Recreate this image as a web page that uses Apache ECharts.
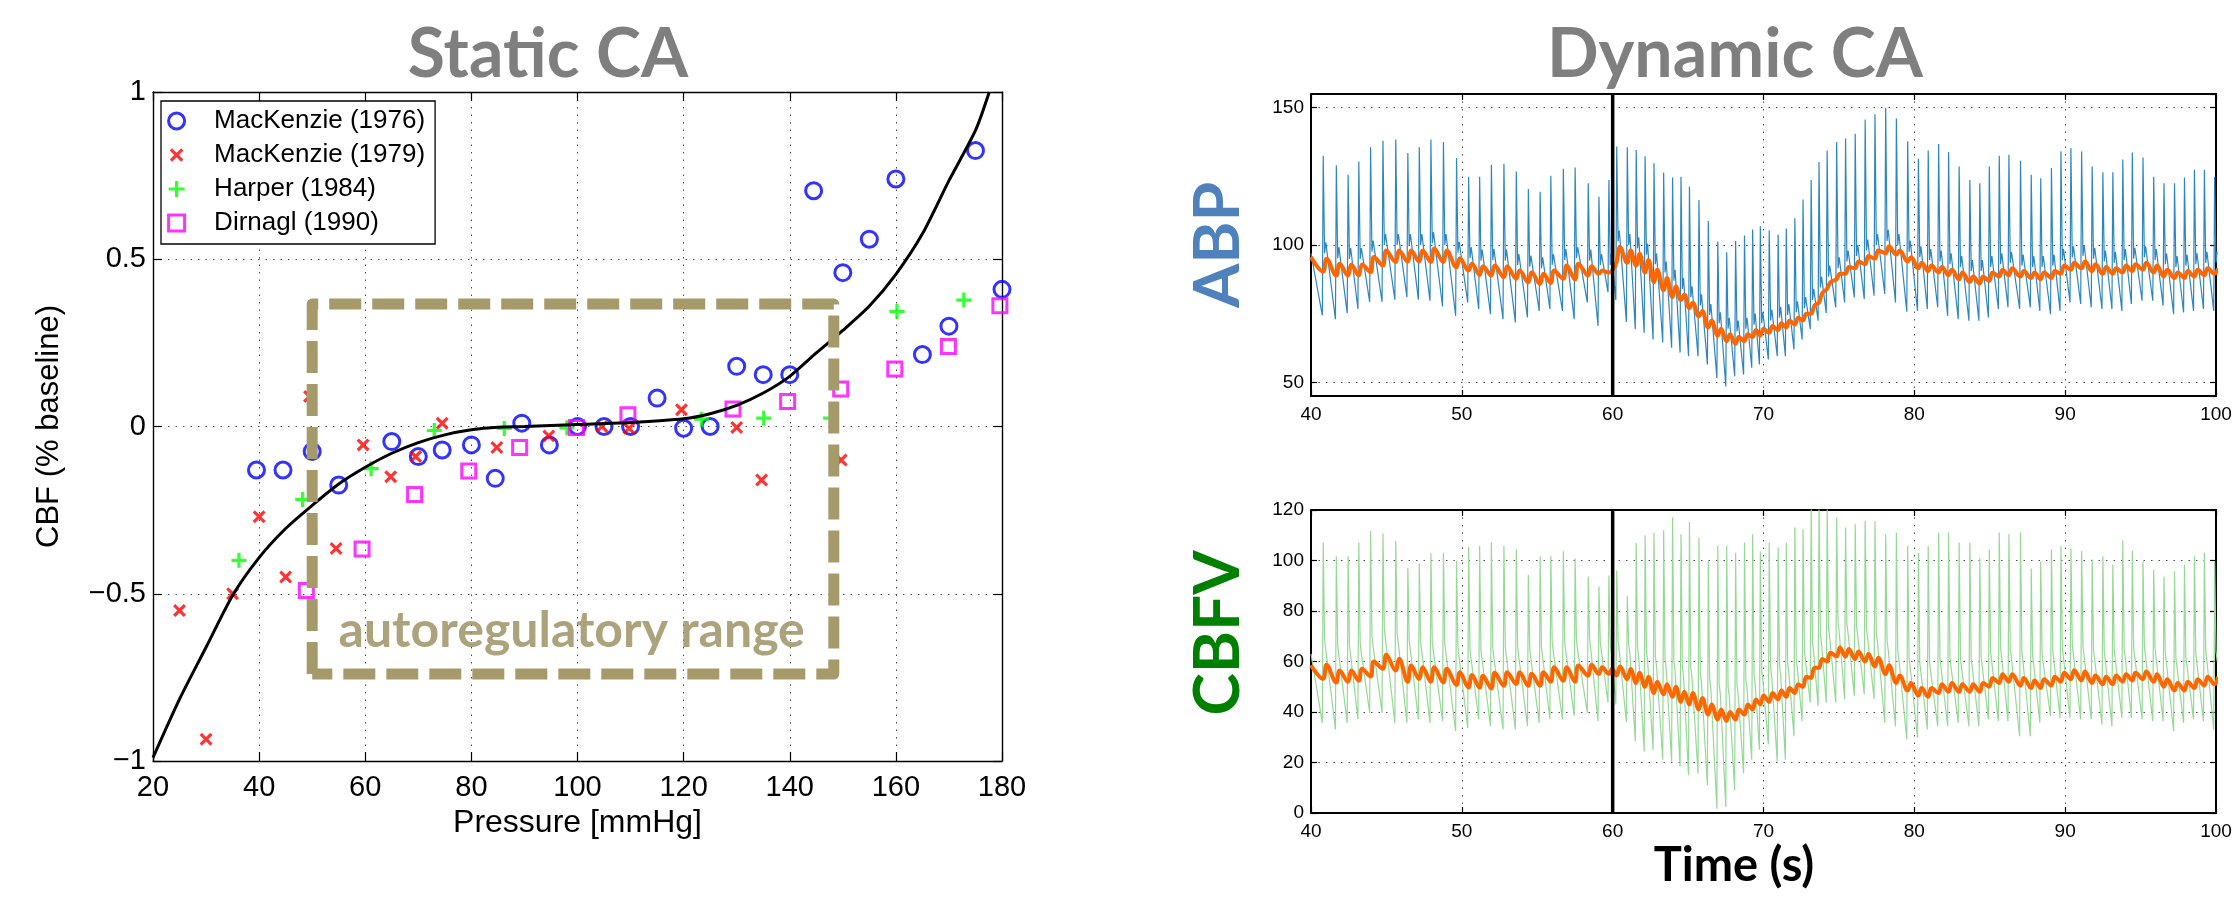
<!DOCTYPE html>
<html><head><meta charset="utf-8">
<script src="https://cdn.jsdelivr.net/npm/echarts@6/dist/echarts.min.js"></script>
<style>html,body{margin:0;padding:0;background:#fff}#c{width:2237px;height:898px}</style>
</head><body><div id="c"></div><script>
// ---------- Static CA (left panel) ----------
const mk76X = [39.5, 44.5, 50, 55, 65, 70, 74.5, 80, 84.5, 89.5, 94.7, 100, 105, 110, 115, 120, 125, 130, 135, 140, 144.5, 150, 155, 160, 165, 170, 175, 180];
const mk76Y = [-0.13, -0.13, -0.075, -0.175, -0.045, -0.09, -0.07, -0.055, -0.155, 0.01, -0.055, 0, 0, 0, 0.085, -0.005, 0, 0.18, 0.155, 0.155, 0.705, 0.46, 0.56, 0.74, 0.215, 0.30, 0.825, 0.41];
const mk79X = [25, 30, 35, 40, 45, 49.5, 54.5, 59.6, 64.8, 69.5, 74.5, 84.8, 94.6, 104.6, 109.7, 119.6, 130, 134.7, 149.7];
const mk79Y = [-0.55, -0.935, -0.50, -0.27, -0.45, 0.09, -0.365, -0.055, -0.15, -0.09, 0.01, -0.063, -0.028, 0, -0.005, 0.05, -0.003, -0.16, -0.10];
const harperX = [36.2, 48.2, 61.1, 73, 86.2, 98, 123.4, 135.1, 147.7, 160.2, 172.8];
const harperY = [-0.40, -0.218, -0.126, -0.012, -0.006, -0.004, 0.022, 0.025, 0.025, 0.344, 0.378];
const dirnaglX = [48.9, 59.4, 69.3, 79.5, 89.1, 99.8, 109.5, 129.3, 139.6, 149.6, 159.8, 169.9, 179.6];
const dirnaglY = [-0.49, -0.366, -0.203, -0.133, -0.063, -0.003, 0.035, 0.052, 0.075, 0.112, 0.172, 0.239, 0.361];
const fitX = [20, 25, 30, 35, 40, 45, 50, 55, 60, 65, 70, 75, 80, 85, 90, 100, 110, 120, 125, 130, 135, 140, 145, 150, 155, 160, 165, 170, 175, 177.6];
const fitY = [-0.99, -0.815, -0.66, -0.505, -0.392, -0.305, -0.236, -0.172, -0.122, -0.080, -0.048, -0.025, -0.010, -0.002, 0.0, 0.006, 0.012, 0.023, 0.038, 0.063, 0.10, 0.15, 0.22, 0.287, 0.36, 0.455, 0.576, 0.735, 0.885, 1.0];
const rangeX = [50, 148.3];      // autoregulatory range box (pressure)
const rangeY = [-0.74, 0.366];   // box (CBF)
const rangeLabel = 'autoregulatory range';
const rangeLabelPos = [98.9, -0.612];

// ---------- Dynamic CA (right panels) ----------
const beatTimes = [40.78, 41.65, 42.43, 43.14, 43.92, 44.74, 45.59, 46.39, 47.15, 47.92,
 48.75, 49.62, 50.42, 51.15, 51.93, 52.76, 53.58, 54.38, 55.16, 55.87,
 56.70, 57.48, 58.35, 59.06, 59.72,
 60.24, 60.94, 61.53, 62.12, 62.71, 63.35, 63.94,
 64.50, 65.06, 65.69, 66.31, 66.94, 67.53, 68.12, 68.71, 69.25, 69.76,
 70.35, 70.94, 71.48, 72.05, 72.59, 73.13, 73.65, 74.19, 74.82, 75.41,
 76.05, 76.71, 77.36, 78.07, 78.78, 79.53, 80.24, 80.89, 81.58, 82.24,
 82.94, 83.65, 84.31, 84.94, 85.60, 86.24, 87.01, 87.72, 88.35, 89.06,
 89.69, 90.35, 91.06, 91.76, 92.47, 93.13, 93.79, 94.42, 95.13, 95.84,
 96.52, 97.22, 97.88, 98.54, 99.20, 99.88];
const abpSys = [132.5, 129.0, 125.6, 130.4, 135.6, 138.0, 138.4, 133.5, 135.6, 138.4, 137.5, 131.7, 124.9, 124.9, 129.2, 129.6, 126.8, 120.4, 119.4, 125.2, 127.8, 128.2, 122.5, 117.6, 123.7,
 135.9, 135.6, 134.6, 132.3, 129.8, 126.4, 124.6,
 124.9, 121.3, 116.4, 108.7, 101.3, 97.4, 101.5, 103.5, 105.6, 106.8, 105.4, 103.8, 106.0, 109.7, 116.6, 123.7, 130.2, 134.4, 137.5, 138.8, 140.5, 145.7, 147.6, 150.0, 146.1, 137.8, 131.4, 134.4, 136.8, 133.9, 128.6, 123.7, 122.5, 128.6, 132.5, 132.9, 130.7, 125.6, 124.3, 128.0, 134.1, 135.3, 134.1, 128.6, 126.5, 126.5, 131.1, 133.7, 131.9, 124.9, 122.5, 122.5, 124.6, 127.4, 127.4, 124.9];
const abpDia = [74.4, 73.0, 75.2, 76.7, 79.3, 79.3, 80.1, 81.0, 80.1, 79.7, 77.6, 74.2, 79.1, 76.7, 74.8, 73.0, 71.8, 73.6, 76.0, 76.7, 76.0, 73.0, 79.1, 70.5, 82.8,
 80.0, 72.0, 69.3, 68.0, 65.6, 64.5, 62.6,
 60.8, 59.5, 59.5, 56.5, 51.6, 48.5, 52.2, 52.8, 55.3, 56.5, 58.3, 59.5, 59.5, 62.0, 65.6, 69.3, 72.4, 75.2, 77.3, 79.1, 80.9, 80.3, 81.5, 82.2, 79.1, 75.7, 76.0, 76.7, 77.3, 74.2, 73.0, 72.4, 72.4, 73.6, 76.7, 77.3, 76.7, 77.3, 76.0, 74.8, 76.0, 79.1, 78.5, 77.3, 76.7, 76.7, 76.0, 78.5, 79.7, 79.7, 77.9, 74.8, 75.4, 76.0, 76.7, 76.0];
const abpMeanLo = [90.3, 88.9, 88.9, 88.9, 90.1, 92.5, 93.8, 94.0, 94.0, 93.8, 93.8, 91.9, 90.7, 89.1, 88.9, 88.3, 87.7, 86.4, 85.8, 86.2, 87.7, 87.4, 88.9, 89.5, 89.9,
 93.8, 93.5, 92.5, 90.0, 86.5, 83.5, 81.0,
 80, 77, 74, 70, 67, 65, 64, 65, 66.5, 67, 68, 69, 70, 71, 72.5, 75, 79, 84, 87.5, 89.5, 91.5, 93, 95, 97, 96.5, 94, 91.5, 90.5, 90, 89, 87.5, 86.5, 86, 87, 88.5, 89, 88.5, 88, 87.5, 88, 89.5, 91, 91.5, 90.5, 89.5, 89.5, 90, 90.5, 91, 90, 88.5, 88, 88, 88.5, 89, 89.5];
const abpMeanHi = [95.0, 93.2, 92.9, 92.9, 95.6, 98.0, 98.0, 98.0, 98.0, 98.7, 98.0, 95.2, 93.2, 92.3, 92.5, 92.3, 90.7, 90.1, 89.5, 90.7, 92.5, 93.2, 92.3, 90.7, 90.7,
 99.3, 98.0, 96.8, 94.5, 91.0, 88.0, 85.0,
 82, 79, 76, 72.5, 69.5, 67.5, 66.5, 67.5, 69, 69.5, 70.5, 71.5, 72.5, 73.5, 75, 78, 82.5, 86.5, 89.5, 92, 94, 96, 98, 99.5, 98, 95.5, 93.5, 92.5, 92, 91, 90, 88.5, 88.5, 90, 91, 91.5, 90.5, 90, 90, 90.5, 92.5, 93.5, 94, 93, 92, 91.5, 92.5, 93, 93.5, 92.5, 91, 90, 90.5, 91, 91.5, 91.5];
const cbfvSys = [107.1, 101.7, 101.7, 107.1, 111.7, 110.7, 107.7, 97.1, 98.7, 103.1, 103.1, 99.7, 105.3, 105.7, 107.1, 105.7, 104.4, 94.4, 101.7, 101.7, 103.7, 100.8, 93.7, 89.7, 94.1,
 96, 86, 107, 110, 111, 112, 117,
 110.4, 115.1, 109.1, 99.7, 105.7, 105.7, 103.1, 107.1, 110.4, 103.7, 107.1, 105.1, 107.1, 113.1, 112.4, 121, 121, 121, 117.1, 113.1, 114.4, 115.7, 115.5, 110.4, 111.1, 105.7, 103.1, 105.7, 111.1, 111.1, 107.1, 107.1, 101.1, 104.4, 111.1, 110.4, 111.1, 96.8, 99.7, 104.4, 105.7, 104.8, 103.7, 100.4, 101.7, 98.4, 108.0, 104.0, 99.7, 96.4, 93.7, 95.7, 98.4, 101.7, 103.1, 99.7];
const cbfvDia = [35.7, 33.1, 35.7, 37.1, 39.7, 39.7, 35.7, 35.7, 37.1, 35.7, 36.4, 32.4, 33.7, 37.1, 34.4, 33.1, 33.1, 34.4, 35.7, 37.1, 37.1, 38.4, 39.7, 36.4, 43.7,
 43, 36, 28.4, 24.4, 25, 21.1, 20.4,
 18.4, 15, 15.7, 11, 1.7, 2.4, 9.1, 15.7, 21.1, 25.1, 27.1, 20.4, 21.1, 30.4, 36.4, 43.7, 42.4, 43.7, 43.7, 45.1, 46.4, 47.1, 45.1, 35.7, 34.4, 29.1, 29.7, 33.1, 34.4, 34.4, 35.7, 34.4, 34.4, 37.1, 36.4, 36.4, 30.4, 30.4, 35.7, 38.4, 37.7, 37.7, 37.1, 37.1, 35.1, 34.4, 37.7, 37.7, 37.1, 36.4, 36.4, 32.4, 35.7, 37.1, 36.4, 33.1];
const cbfvMeanLo = [53.1, 51.7, 52.0, 52.4, 54.1, 57.1, 56.4, 52.0, 53.1, 52.0, 51.7, 50.7, 49.7, 49.7, 49.3, 50.4, 51.1, 50.4, 50.4, 52.0, 52.4, 52.0, 54.4, 55.1, 55.1,
 54.5, 53, 51.5, 50, 47.5, 47, 46,
 44, 43, 41, 39, 37, 36.5, 37, 39, 41, 43, 44, 45, 46, 47.5, 50, 53.5, 57.5, 60, 62, 62, 61, 60, 58, 55, 51.5, 48.5, 46.5, 46, 47.5, 48, 48, 48, 48, 50, 51.5, 52, 50.5, 49.5, 49.5, 50.5, 52, 53, 52.5, 51.5, 51, 51, 52, 52.5, 53, 52, 50, 48.5, 48.5, 49.5, 50.5, 51];
const cbfvMeanHi = [58.7, 56.4, 56.4, 57.1, 60.0, 62.7, 61.1, 58.4, 57.7, 57.7, 57.1, 55.7, 54.7, 54.4, 55.5, 55.7, 55.7, 55.1, 55.7, 57.7, 57.7, 58.4, 58.7, 57.7, 57.1,
 58, 57, 55.5, 54, 52, 51, 50,
 48, 47.5, 45.5, 43, 41, 40, 41, 43, 45, 46.5, 47.5, 48.5, 49.5, 51, 54, 57.5, 61, 63.5, 65.5, 65, 64, 63, 61.5, 58.5, 54.5, 51.5, 49.5, 49.5, 51, 51.5, 51, 51, 51.5, 53.5, 55, 55, 53.5, 52.5, 53, 54, 55.5, 56.5, 56, 54.5, 54, 54.5, 55, 55.5, 56, 55, 53, 51.5, 52, 53, 54, 54];
const abpStart = 97, abpMeanStart = 95.6, cbfvStart = 63, cbfvMeanStart = 58.5;
const eventTime = 60;
const tRange = [40, 100], abpRange = [45, 155], cbfvRange = [0, 120];

// ---------- builders ----------
function wave(sys, dia, hi, start, notchUp, bumpUp) {
  const pts = [[tRange[0], start]];
  beatTimes.forEach((t, i) => {
    pts.push([t - 0.03, dia[i]]);
    pts.push([t + 0.03, sys[i]]);
    pts.push([t + 0.12, hi[i] + notchUp]);
    pts.push([t + 0.20, hi[i] + bumpUp]);
  });
  return pts;
}
function meanLine(lo, hi, start) {
  const pts = [[tRange[0], start]];
  beatTimes.forEach((t, i) => { pts.push([t + 0.02, lo[i]]); pts.push([t + 0.25, hi[i]]); });
  return pts;
}
const zip = (xs, ys) => xs.map((x, i) => [x, ys[i]]);
const FONT = 'Liberation Sans, Arial, sans-serif';
const gridCol = '#4a4a4a';
const dotted = {show: true, lineStyle: {color: gridCol, width: 1, type: [1.5, 6]}};

function xAx(gi, min, max, step, pos, show, extra) {
  return Object.assign({
    gridIndex: gi, type: 'value', min, max, interval: step, position: pos,
    axisLine: {show: true, onZero: false, lineStyle: {color: '#000', width: gi === 0 ? 1.4 : 2}},
    axisTick: {show: true, inside: true, length: gi === 0 ? 9 : 6, lineStyle: {color: '#000', width: 1.2}},
    axisLabel: {show: show, color: '#000', fontFamily: FONT, fontSize: gi === 0 ? 29 : 19, margin: gi === 0 ? 12 : 9},
    splitLine: show ? dotted : {show: false}
  }, extra || {});
}
function yAx(gi, min, max, step, pos, show, extra) {
  return Object.assign({
    gridIndex: gi, type: 'value', min, max, interval: step, position: pos,
    axisLine: {show: true, onZero: false, lineStyle: {color: '#000', width: gi === 0 ? 1.4 : 2}},
    axisTick: {show: true, inside: true, length: gi === 0 ? 9 : 6, lineStyle: {color: '#000', width: 1.2}},
    axisLabel: {show: show, color: '#000', fontFamily: FONT, fontSize: gi === 0 ? 29 : 19, margin: 7},
    splitLine: show ? dotted : {show: false}
  }, extra || {});
}
const minus = v => (v < 0 ? '\u2212' + Math.abs(v) : String(v));

function scat(name, xs, ys, symbol, size, color, bw) {
  return {type: 'scatter', name, xAxisIndex: 0, yAxisIndex: 0, data: zip(xs, ys), symbol, symbolSize: size,
    itemStyle: {color: 'rgba(0,0,0,0)', borderColor: color, borderWidth: bw}, z: 3, silent: true};
}
const SYM_X = 'path://M-2,-2L-2,-2M0,0L10,10M10,0L0,10M12,12L12,12';
const SYM_P = 'path://M5,0L5,10M0,5L10,5';
const SYM_S = 'path://M0,0L10,0L10,10L0,10Z';
const legendNames = ['MacKenzie (1976)', 'MacKenzie (1979)', 'Harper (1984)', 'Dirnagl (1990)'];

const boxPts = [[rangeX[0], rangeY[0]], [rangeX[0], rangeY[1]], [rangeX[1], rangeY[1]], [rangeX[1], rangeY[0]], [rangeX[0], rangeY[0]]];

const option = {
  animation: false,
  backgroundColor: '#fff',
  textStyle: {fontFamily: FONT},
  grid: [
    {left: 153, top: 92, width: 849, height: 669, containLabel: false, outerBoundsMode: 'none'},
    {left: 1311, top: 94, width: 905, height: 302, containLabel: false, outerBoundsMode: 'none'},
    {left: 1311, top: 510, width: 905, height: 303, containLabel: false, outerBoundsMode: 'none'}
  ],
  xAxis: [
    xAx(0, 20, 180, 20, 'bottom', true, {name: 'Pressure [mmHg]', nameLocation: 'middle', nameGap: 43,
      nameTextStyle: {fontSize: 32, color: '#000', fontFamily: FONT, verticalAlign: 'top'}}),
    xAx(0, 20, 180, 20, 'top', false),
    xAx(1, tRange[0], tRange[1], 10, 'bottom', true),
    xAx(1, tRange[0], tRange[1], 10, 'top', false),
    xAx(2, tRange[0], tRange[1], 10, 'bottom', true),
    xAx(2, tRange[0], tRange[1], 10, 'top', false)
  ],
  yAxis: [
    yAx(0, -1, 1, 0.5, 'left', true, {name: 'CBF (% baseline)', nameLocation: 'middle', nameGap: 88, nameRotate: 90,
      nameTextStyle: {fontSize: 31, color: '#000', fontFamily: FONT}, axisLabel: {show: true, color: '#000', fontFamily: FONT, fontSize: 29, margin: 7, formatter: minus}}),
    yAx(0, -1, 1, 0.5, 'right', false),
    yAx(1, abpRange[0], abpRange[1], null, 'left', true, {minInterval: 50, maxInterval: 50,
      axisLabel: {show: true, color: '#000', fontFamily: FONT, fontSize: 19, margin: 7, showMinLabel: false, showMaxLabel: false}}),
    yAx(1, abpRange[0], abpRange[1], null, 'right', false, {minInterval: 50, maxInterval: 50}),
    yAx(2, cbfvRange[0], cbfvRange[1], 20, 'left', true),
    yAx(2, cbfvRange[0], cbfvRange[1], 20, 'right', false)
  ],
  legend: {
    data: [
      {name: legendNames[0], icon: 'circle', itemStyle: {color: 'rgba(0,0,0,0)', borderColor: '#0000ff', borderWidth: 3}},
      {name: legendNames[1], icon: SYM_X, itemStyle: {color: 'rgba(0,0,0,0)', borderColor: '#ff0000', borderWidth: 3.2}},
      {name: legendNames[2], icon: SYM_P, itemStyle: {color: 'rgba(0,0,0,0)', borderColor: '#00ff00', borderWidth: 3.2}},
      {name: legendNames[3], icon: SYM_S, itemStyle: {color: 'rgba(0,0,0,0)', borderColor: '#ff00ff', borderWidth: 3}}
    ],
    orient: 'vertical', left: 161, top: 101, padding: [7, 10, 8, 6], itemWidth: 65, itemHeight: 16, itemGap: 8,
    symbolKeepAspect: true,
    backgroundColor: '#fff', borderColor: '#000', borderWidth: 1.3, selectedMode: false,
    textStyle: {fontSize: 26, color: '#000', fontFamily: FONT}
  },
  graphic: [
    {type: 'text', x: 548, y: 55, style: {text: 'Static CA', fill: '#7f7f7f', font: 'bold 68px Lato', align: 'center', verticalAlign: 'middle'}},
    {type: 'text', x: 1735, y: 55, style: {text: 'Dynamic CA', fill: '#7f7f7f', font: 'bold 68px Lato', align: 'center', verticalAlign: 'middle'}},
    {type: 'text', x: 1734, y: 866, style: {text: 'Time (s)', fill: '#000', font: 'bold 47px Lato', align: 'center', verticalAlign: 'middle'}},
    {type: 'text', x: 1218, y: 245, rotation: Math.PI / 2, style: {text: 'ABP', fill: '#4f81bd', font: 'bold 64px Lato', align: 'center', verticalAlign: 'middle'}},
    {type: 'text', x: 1218, y: 633, rotation: Math.PI / 2, style: {text: 'CBFV', fill: '#008000', font: 'bold 64px Lato', align: 'center', verticalAlign: 'middle'}}
  ],
  series: [
    scat(legendNames[0], mk76X, mk76Y, 'circle', 16, '#0000ff', 3),
    scat(legendNames[1], mk79X, mk79Y, SYM_X, 15, '#ff0000', 3.2),
    scat(legendNames[2], harperX, harperY, SYM_P, 15, '#00ff00', 3.2),
    scat(legendNames[3], dirnaglX, dirnaglY, SYM_S, 14, '#ff00ff', 3),
    {type: 'line', name: 'fit', xAxisIndex: 0, yAxisIndex: 0, data: zip(fitX, fitY), smooth: 0.25, showSymbol: false,
      lineStyle: {color: '#000', width: 3}, z: 4, silent: true},
    {type: 'line', name: 'range', xAxisIndex: 0, yAxisIndex: 0, data: boxPts, showSymbol: false,
      lineStyle: {color: '#a69a6b', width: 11, type: [32, 11], cap: 'butt', join: 'round'}, z: 5, silent: true},
    {type: 'scatter', name: 'rangeLabel', xAxisIndex: 0, yAxisIndex: 0, data: [rangeLabelPos], symbolSize: 0, z: 6, silent: true,
      label: {show: true, position: 'inside', formatter: rangeLabel, color: '#978c5d', fontFamily: 'Lato', fontWeight: 'bold', fontSize: 50}},
    // ABP
    {type: 'line', xAxisIndex: 2, yAxisIndex: 2, data: wave(abpSys, abpDia, abpMeanHi, abpStart, 2, 6), showSymbol: false,
      lineStyle: {color: '#2e86c1', width: 1.2}, z: 2, silent: true},
    {type: 'line', xAxisIndex: 2, yAxisIndex: 2, data: meanLine(abpMeanLo, abpMeanHi, abpMeanStart), smooth: 0.4, showSymbol: false,
      lineStyle: {color: '#ff6600', width: 4}, z: 3, silent: true},
    {type: 'line', xAxisIndex: 2, yAxisIndex: 2, data: [[eventTime, abpRange[0]], [eventTime, abpRange[1]]], showSymbol: false,
      lineStyle: {color: '#000', width: 3.5}, z: 4, silent: true},
    // CBFV
    {type: 'line', xAxisIndex: 4, yAxisIndex: 4, data: wave(cbfvSys, cbfvDia, cbfvMeanHi, cbfvStart, 10, 6), showSymbol: false,
      lineStyle: {color: '#96d896', width: 1.2}, z: 2, silent: true},
    {type: 'line', xAxisIndex: 4, yAxisIndex: 4, data: meanLine(cbfvMeanLo, cbfvMeanHi, cbfvMeanStart), smooth: 0.4, showSymbol: false,
      lineStyle: {color: '#ff6600', width: 4}, z: 3, silent: true},
    {type: 'line', xAxisIndex: 4, yAxisIndex: 4, data: [[eventTime, cbfvRange[0]], [eventTime, cbfvRange[1]]], showSymbol: false,
      lineStyle: {color: '#000', width: 3.5}, z: 4, silent: true}
  ]
};
const chart = echarts.init(document.getElementById('c'), null, {renderer: 'canvas'});
chart.setOption(option);
</script></body></html>
